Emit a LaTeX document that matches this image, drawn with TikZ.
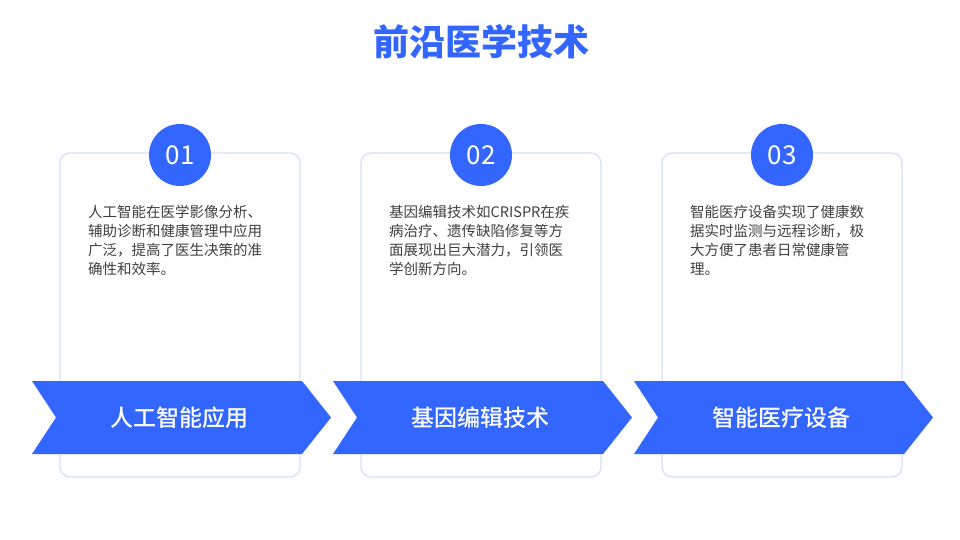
\documentclass[tikz,border=0pt]{standalone}
\usepackage{fontspec}
\setmainfont{Noto Sans CJK SC}
\newfontfamily\cjkmedium{Noto Sans CJK SC Medium}
\usetikzlibrary{positioning,calc}
\definecolor{mainblue}{HTML}{3366FF}
\definecolor{cardline}{HTML}{D6E0FA}
\definecolor{bodytext}{HTML}{404040}

\begin{document}
\begin{tikzpicture}[
    x=1pt, y=-1pt,
    card/.style={draw=cardline, line width=1.3pt, rounded corners=10pt, fill=white},
    badge/.style={circle, fill=mainblue, minimum size=62pt, inner sep=0pt, text=white, font=\fontsize{26}{30}\selectfont},
    desc/.style={anchor=north west, align=left, text=bodytext, inner sep=0pt, font=\fontsize{14.5}{19}\selectfont},
    banner/.style={fill=mainblue, draw=none},
    bannertext/.style={text=white, font=\fontsize{23}{26}\selectfont\cjkmedium}
]
    \useasboundingbox (0,0) rectangle (960,540);
    \fill[white] (0,0) rectangle (960,540);

    \node[text=mainblue, font=\fontsize{36}{40}\selectfont\bfseries] (title) at (481,42) {前沿医学技术};

    \foreach \i/\num/\name/\body in {
        0/01/人工智能应用/{人工智能在医学影像分析、\\辅助诊断和健康管理中应用\\广泛，提高了医生决策的准\\确性和效率。},
        1/02/基因编辑技术/{基因编辑技术如CRISPR在疾\\病治疗、遗传缺陷修复等方\\面展现出巨大潜力，引领医\\学创新方向。},
        2/03/智能医疗设备/{智能医疗设备实现了健康数\\据实时监测与远程诊断，极\\大方便了患者日常健康管\\理。}} {
        \begin{scope}[xshift=\i*301]
            \draw[card] (60,153) rectangle (300,477);
            \node[badge] (badge\num) at (180,155) {\num};
            \node[desc] (desc\num) at (88,205) {\body};
            \fill[banner] (32,381) -- (302,381) -- (331,417.5) -- (302,454) -- (32,454) -- (56,417.5) -- cycle;
            \node[bannertext] (label\num) at (179,417.5) {\name};
        \end{scope}
    }
\end{tikzpicture}
\end{document}
